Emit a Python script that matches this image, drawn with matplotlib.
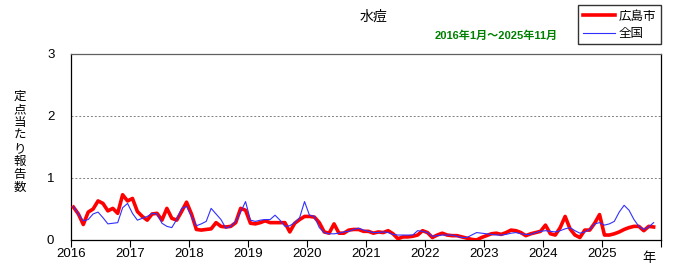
import matplotlib
matplotlib.use("Agg")
import matplotlib.pyplot as plt
import numpy as np

plt.rcParams["font.family"] = ["Liberation Sans", "Noto Sans CJK JP", "DejaVu Sans"]

years = ["2016", "2017", "2018", "2019", "2020", "2021", "2022", "2023", "2024", "2025"]

# monthly reports per sentinel, Jan 2016 .. Nov 2025
hiroshima = [
    0.53, 0.42, 0.25, 0.45, 0.50, 0.63, 0.59, 0.47, 0.51, 0.43, 0.73, 0.63,
    0.67, 0.46, 0.38, 0.32, 0.42, 0.43, 0.32, 0.51, 0.35, 0.32, 0.46, 0.61,
    0.42, 0.17, 0.16, 0.17, 0.18, 0.28, 0.22, 0.21, 0.22, 0.28, 0.51, 0.48,
    0.27, 0.26, 0.28, 0.31, 0.28, 0.28, 0.28, 0.28, 0.13, 0.27, 0.33, 0.38,
    0.38, 0.37, 0.28, 0.13, 0.11, 0.26, 0.11, 0.11, 0.16, 0.17, 0.17, 0.14,
    0.14, 0.11, 0.13, 0.12, 0.15, 0.10, 0.02, 0.05, 0.05, 0.06, 0.08, 0.15,
    0.12, 0.04, 0.08, 0.11, 0.08, 0.07, 0.07, 0.05, 0.03, 0.01, 0.00, 0.04,
    0.07, 0.10, 0.11, 0.09, 0.12, 0.16, 0.15, 0.12, 0.07, 0.10, 0.12, 0.14,
    0.24, 0.10, 0.08, 0.20, 0.38, 0.18, 0.08, 0.04, 0.16, 0.16, 0.27, 0.41,
    0.08, 0.08, 0.10, 0.13, 0.17, 0.20, 0.22, 0.22, 0.15, 0.22, 0.21,
]
national = [
    0.54, 0.42, 0.31, 0.33, 0.42, 0.45, 0.36, 0.26, 0.27, 0.28, 0.52, 0.59,
    0.43, 0.32, 0.35, 0.38, 0.43, 0.42, 0.27, 0.22, 0.20, 0.33, 0.51, 0.54,
    0.38, 0.23, 0.26, 0.30, 0.51, 0.42, 0.33, 0.19, 0.22, 0.30, 0.45, 0.62,
    0.32, 0.30, 0.32, 0.33, 0.33, 0.40, 0.32, 0.22, 0.23, 0.28, 0.36, 0.62,
    0.40, 0.38, 0.20, 0.12, 0.10, 0.10, 0.11, 0.13, 0.14, 0.17, 0.19, 0.16,
    0.14, 0.12, 0.12, 0.13, 0.12, 0.09, 0.08, 0.08, 0.08, 0.08, 0.15, 0.14,
    0.12, 0.06, 0.07, 0.08, 0.08, 0.08, 0.06, 0.04, 0.04, 0.08, 0.12, 0.11,
    0.10, 0.09, 0.08, 0.08, 0.09, 0.11, 0.12, 0.10, 0.09, 0.09, 0.12, 0.14,
    0.15, 0.14, 0.13, 0.15, 0.18, 0.20, 0.15, 0.11, 0.13, 0.17, 0.26, 0.28,
    0.24, 0.26, 0.30, 0.45, 0.56, 0.48, 0.33, 0.22, 0.17, 0.21, 0.28,
]

x = np.arange(len(hiroshima)) + 0.5
jp = ["Noto Sans CJK JP", "DejaVu Sans"]

fig = plt.figure(figsize=(7.0, 2.78), dpi=100)
ax = fig.add_axes([71 / 700, 1 - 240 / 278, 590 / 700, 186 / 278])

ax.plot(x, hiroshima, color="#ff0000", lw=2.6, solid_joinstyle="round", label="広島市", zorder=3)
ax.plot(x, national, color="#3030ff", lw=0.8, label="全国", zorder=4)

ax.set_xlim(0, 120)
ax.set_ylim(0, 3)
ax.set_yticks([0, 1, 2, 3])
ax.set_xticks(np.arange(0, 121, 12))
ax.set_xticklabels(years + [""])
ax.tick_params(axis="x", direction="out", length=5, width=0.8, labelsize=9.5, pad=1)
ax.tick_params(axis="y", length=0, labelsize=9.5, pad=12)
for v in [1, 2, 3]:
    ax.axhline(v, color="#808080", lw=0.7, ls=(0, (2, 2)), zorder=1)
for s in ax.spines.values():
    s.set_color("black")
    s.set_linewidth(0.9)
ax.spines["top"].set_color("#606060")

ax.text(117.5, -0.3, "年", ha="center", va="center", fontsize=9.5, family=jp,
        transform=ax.transData, clip_on=False)

fig.text(20 / 700, 1 - 142 / 278, "\n".join("定点当たり報告数"), ha="center", va="center",
         fontsize=9, linespacing=1.0, family=jp)
fig.text(373 / 700, 1 - 17 / 278, "水痘", ha="center", va="center", fontsize=10, family=jp)
fig.text(558 / 700, 1 - 36 / 278, "2016年1月～2025年11月", ha="right", va="center",
         fontsize=8, color="#008000", fontweight="bold")

leg = fig.legend(loc="upper right", bbox_to_anchor=(662 / 700, 1 - 4 / 278),
                 prop={"family": jp, "size": 9}, frameon=True, fancybox=False,
                 edgecolor="black", handlelength=2.6, handletextpad=0.3,
                 borderpad=0.35, labelspacing=0.35, borderaxespad=0.1)
leg.get_frame().set_linewidth(1.0)

fig.savefig("out.png", dpi=100)
